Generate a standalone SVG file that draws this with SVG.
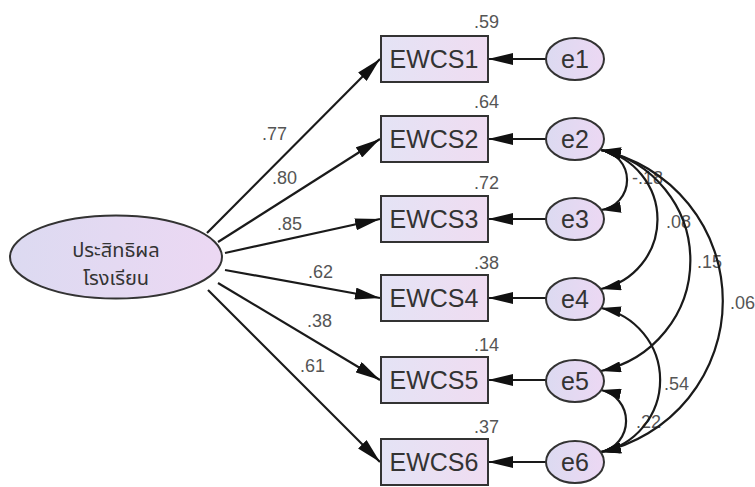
<svg xmlns="http://www.w3.org/2000/svg" width="755" height="487" viewBox="0 0 755 487">
<style>
.bx{fill:url(#gb);stroke:#333;stroke-width:2}
.el{fill:url(#ge);stroke:#333;stroke-width:2}
.lab{font-family:"Liberation Sans",Arial,sans-serif;font-size:25px;fill:#333;text-anchor:middle}
.num{font-family:"Liberation Sans",Arial,sans-serif;font-size:18px;fill:#555}
.th{font-family:"Noto Sans Thai","Tahoma","Noto Sans",sans-serif;font-size:20px;fill:#333;text-anchor:middle}
.ln{fill:none;stroke:#1a1a1a;stroke-width:2.2}
</style>
<defs>
<linearGradient id="gb" x1="0" y1="0" x2="1" y2="0"><stop offset="0" stop-color="#e4e3f5"/><stop offset="1" stop-color="#efdcf1"/></linearGradient>
<linearGradient id="ge" x1="0" y1="0" x2="1" y2="0"><stop offset="0" stop-color="#dcdaf1"/><stop offset="1" stop-color="#ecd8f3"/></linearGradient>
<marker id="ah" markerUnits="userSpaceOnUse" markerWidth="25" markerHeight="12" viewBox="0 0 25 12" refX="25" refY="6" orient="auto-start-reverse"><path d="M0,0 L25,6 L0,12 z" fill="#111"/></marker>
<marker id="ch" markerUnits="userSpaceOnUse" markerWidth="20" markerHeight="11" viewBox="0 0 20 11" refX="20" refY="5.5" orient="auto-start-reverse"><path d="M0,0 L20,5.5 L0,11 z" fill="#111"/></marker>
</defs>

<g id="labels-cov">
<text class="num" x="632" y="184">-.18</text>
<text class="num" x="666" y="228">.08</text>
<text class="num" x="697" y="268">.15</text>
<text class="num" x="730" y="309">.06</text>
<text class="num" x="664" y="390">.54</text>
<text class="num" x="636" y="428">.22</text>
</g>

<g id="connectors">
<line class="ln" x1="207" y1="233" x2="380" y2="59" marker-end="url(#ah)"/>
<line class="ln" x1="218" y1="242" x2="380" y2="139" marker-end="url(#ah)"/>
<line class="ln" x1="225" y1="253" x2="380" y2="219" marker-end="url(#ah)"/>
<line class="ln" x1="225" y1="270" x2="380" y2="298" marker-end="url(#ah)"/>
<line class="ln" x1="218" y1="283" x2="380" y2="380" marker-end="url(#ah)"/>
<line class="ln" x1="208" y1="290" x2="380" y2="462" marker-end="url(#ah)"/>
<line class="ln" x1="546" y1="59" x2="488" y2="59" marker-end="url(#ah)"/>
<line class="ln" x1="546" y1="139" x2="488" y2="139" marker-end="url(#ah)"/>
<line class="ln" x1="546" y1="219" x2="488" y2="219" marker-end="url(#ah)"/>
<line class="ln" x1="546" y1="298" x2="488" y2="298" marker-end="url(#ah)"/>
<line class="ln" x1="546" y1="380" x2="488" y2="380" marker-end="url(#ah)"/>
<line class="ln" x1="546" y1="462" x2="488" y2="462" marker-end="url(#ah)"/>
<path class="ln" d="M601,150 A30.3,30.3 0 0 1 601,210" marker-start="url(#ch)" marker-end="url(#ch)"/>
<path class="ln" d="M601,150 A71,71 0 0 1 601,289" marker-start="url(#ch)" marker-end="url(#ch)"/>
<path class="ln" d="M601,150 A113,113 0 0 1 601,371" marker-start="url(#ch)" marker-end="url(#ch)"/>
<path class="ln" d="M601,150 A154.5,154.5 0 0 1 601,452" marker-start="url(#ch)" marker-end="url(#ch)"/>
<path class="ln" d="M601,308 A73.4,73.4 0 0 1 601,452" marker-start="url(#ch)" marker-end="url(#ch)"/>
<path class="ln" d="M601,390 A31.7,31.7 0 0 1 601,452" marker-start="url(#ch)" marker-end="url(#ch)"/>
</g>

<g id="path-labels">
<text class="num" x="262" y="140">.77</text>
<text class="num" x="272" y="184">.80</text>
<text class="num" x="277" y="230">.85</text>
<text class="num" x="308" y="278">.62</text>
<text class="num" x="307" y="327">.38</text>
<text class="num" x="300" y="372">.61</text>
</g>

<g id="latent"><ellipse class="el" cx="116" cy="257" rx="106" ry="41.5"/>
<text class="th" x="116" y="257">ประสิทธิผล</text><text class="th" x="116" y="285">โรงเรียน</text></g>

<g id="EWCS1"><rect class="bx" x="381" y="36" width="107" height="46"/><text class="lab" x="434" y="68">EWCS1</text><text class="num" x="474" y="28">.59</text></g>
<g id="EWCS2"><rect class="bx" x="381" y="116" width="107" height="46"/><text class="lab" x="434" y="148">EWCS2</text><text class="num" x="474" y="108">.64</text></g>
<g id="EWCS3"><rect class="bx" x="381" y="196" width="107" height="46"/><text class="lab" x="434" y="228">EWCS3</text><text class="num" x="474" y="189">.72</text></g>
<g id="EWCS4"><rect class="bx" x="381" y="275" width="107" height="46"/><text class="lab" x="434" y="307">EWCS4</text><text class="num" x="474" y="269">.38</text></g>
<g id="EWCS5"><rect class="bx" x="381" y="357" width="107" height="46"/><text class="lab" x="434" y="389">EWCS5</text><text class="num" x="474" y="351">.14</text></g>
<g id="EWCS6"><rect class="bx" x="381" y="439" width="107" height="46"/><text class="lab" x="434" y="471">EWCS6</text><text class="num" x="474" y="433">.37</text></g>

<g id="e1"><ellipse class="el" cx="575" cy="59" rx="29" ry="21"/><text class="lab" x="575" y="68">e1</text></g>
<g id="e2"><ellipse class="el" cx="575" cy="139" rx="29" ry="21"/><text class="lab" x="575" y="148">e2</text></g>
<g id="e3"><ellipse class="el" cx="575" cy="219" rx="29" ry="21"/><text class="lab" x="575" y="228">e3</text></g>
<g id="e4"><ellipse class="el" cx="575" cy="299" rx="29" ry="21"/><text class="lab" x="575" y="308">e4</text></g>
<g id="e5"><ellipse class="el" cx="575" cy="381" rx="29" ry="21"/><text class="lab" x="575" y="390">e5</text></g>
<g id="e6"><ellipse class="el" cx="575" cy="462" rx="29" ry="21"/><text class="lab" x="575" y="471">e6</text></g>
</svg>
